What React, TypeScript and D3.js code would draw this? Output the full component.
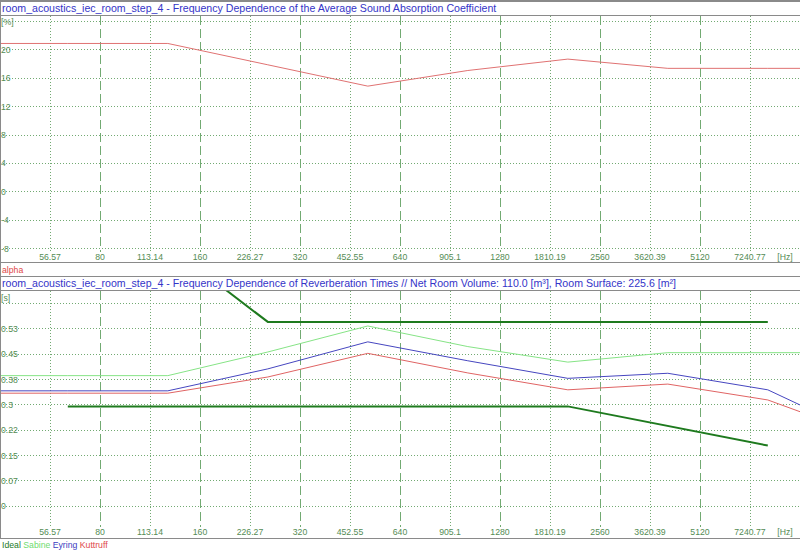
import { useRef, useEffect } from "react";
import * as d3 from "d3";

// octave bands used by the calculation (powers of two)
const bandHz = [32, 64, 128, 256, 512, 1024, 2048, 4096, 8192, 16384];
const alphaPct = [20.8, 20.8, 20.8, 17.8, 14.8, 17.0, 18.6, 17.3, 17.3, 17.3];
const sabine = [0.385, 0.385, 0.385, 0.455, 0.532, 0.471, 0.425, 0.453, 0.453, 0.453];
const eyring = [0.34, 0.34, 0.34, 0.405, 0.485, 0.429, 0.377, 0.392, 0.343, 0.204];
const kuttruff = [0.333, 0.333, 0.333, 0.381, 0.451, 0.393, 0.343, 0.36, 0.313, 0.205];

// tolerance band of the ideal reverberation time
const idealUpperHz = [128, 256, 8192];
const idealUpper = [0.77, 0.544, 0.544];
const idealLowerHz = [64, 2048, 8192];
const idealLower = [0.294, 0.294, 0.178];

const xTickLabels = ["56.57", "80", "113.14", "160", "226.27", "320", "452.55", "640", "905.1", "1280", "1810.19", "2560", "3620.39", "5120", "7240.77"];
const alphaTicks = [-8, -4, 0, 4, 8, 12, 16, 20];
const timeTicks = [0, 0.075, 0.15, 0.225, 0.3, 0.375, 0.45, 0.525];
const timeTickLabels = ["0", "0.07", "0.15", "0.22", "0.3", "0.38", "0.45", "0.53"];

const titleTop = "room_acoustics_iec_room_step_4 - Frequency Dependence of the Average Sound Absorption Coefficient";
const titleBottom = "room_acoustics_iec_room_step_4 - Frequency Dependence of Reverberation Times // Net Room Volume: 110.0 [m³], Room Surface: 225.6 [m²]";

const legendItems = [
    { name: "Ideal", color: "#1e7a1e" },
    { name: "Sabine", color: "#6fdc6f" },
    { name: "Eyring", color: "#3c3cc0" },
    { name: "Kuttruff", color: "#e04848" },
];

export default function App() {
    const ref = useRef<SVGSVGElement>(null);

    useEffect(() => {
        if (!ref.current) return;
        const width = 800;
        const height = 551;
        const font = "'Liberation Sans', Arial, sans-serif";
        const gridColor = "#72aa72";
        const labelColor = "#548c54";
        const border = "#8a8a8a";

        const svg = d3.select(ref.current);
        svg.selectAll("*").remove();
        svg.attr("width", width).attr("height", height);
        svg.append("rect").attr("width", width).attr("height", height).attr("fill", "#fff");

        const x = d3.scaleLog().base(2).domain([40, 10240]).range([0, width]);
        const octaves = new Set(["80", "160", "320", "640", "1280", "2560", "5120"]);

        const panels = [
            {
                id: "top", title: titleTop, titleY: 12, plotTop: 16, plotBottom: 252, labelY: 257,
                y: d3.scaleLinear().domain([-8, 24]).range([248.3, 20.7]),
                ticks: alphaTicks, tickLabels: alphaTicks.map(String), unit: "[%]", unitY: 22, top: 24,
            },
            {
                id: "bottom", title: titleBottom, titleY: 287, plotTop: 291, plotBottom: 527, labelY: 532,
                y: d3.scaleLinear().domain([0, 0.6]).range([505.7, 303]),
                ticks: timeTicks, tickLabels: timeTickLabels, unit: "[s]", unitY: 298, top: 0.6,
            },
        ];

        panels.forEach((p) => {
            const g = svg.append("g");
            svg.append("clipPath").attr("id", `clip-${p.id}`)
                .append("rect").attr("x", 0).attr("y", p.plotTop)
                .attr("width", width).attr("height", p.plotBottom - p.plotTop);

            // horizontal grid
            g.selectAll(".hg").data([...p.ticks, p.top]).join("line")
                .attr("x1", 0).attr("x2", width)
                .attr("y1", (d) => Math.round(p.y(d)) + 0.5).attr("y2", (d) => Math.round(p.y(d)) + 0.5)
                .attr("stroke", gridColor).attr("stroke-dasharray", "1,2");

            // vertical grid
            g.selectAll(".vg").data(xTickLabels).join("line")
                .attr("x1", (d) => Math.round(x(+d)) + 0.5).attr("x2", (d) => Math.round(x(+d)) + 0.5)
                .attr("y1", p.plotTop).attr("y2", p.plotBottom)
                .attr("stroke", gridColor)
                .attr("stroke-dasharray", (d) => (octaves.has(d) ? "9,4" : "1,2"));

            // x labels
            g.selectAll(".xl").data(xTickLabels).join("text")
                .attr("x", (d) => x(+d)).attr("y", p.labelY)
                .attr("text-anchor", "middle").attr("dominant-baseline", "central")
                .attr("font-family", font).attr("font-size", 8.7).attr("fill", labelColor)
                .text((d) => d);
            g.append("text").attr("x", 785).attr("y", p.labelY)
                .attr("text-anchor", "middle").attr("dominant-baseline", "central")
                .attr("font-family", font).attr("font-size", 8.7).attr("fill", labelColor)
                .text("[Hz]");

            // y labels
            g.selectAll(".yl").data(p.ticks).join("text")
                .attr("x", 1).attr("y", (d) => p.y(d) + 0.5)
                .attr("dominant-baseline", "central")
                .attr("font-family", font).attr("font-size", 8.7).attr("fill", labelColor)
                .text((_, i) => p.tickLabels[i]);
            g.append("text").attr("x", 1).attr("y", p.unitY)
                .attr("dominant-baseline", "central")
                .attr("font-family", font).attr("font-size", 8.7).attr("fill", labelColor)
                .text(p.unit);

            // title
            svg.append("text").attr("x", 2).attr("y", p.titleY)
                .attr("font-family", font).attr("font-size", 10.6).attr("fill", "#3434c8")
                .text(p.title);
        });

        const line = (yScale: d3.ScaleLinear<number, number>) =>
            d3.line<[number, number]>().x((d) => x(d[0])).y((d) => yScale(d[1]));
        const pairs = (hz: number[], v: number[]) => hz.map((f, i) => [f, v[i]] as [number, number]);

        // top panel: alpha
        const yTop = panels[0].y;
        svg.append("path").attr("clip-path", "url(#clip-top)")
            .attr("d", line(yTop)(pairs(bandHz, alphaPct)))
            .attr("fill", "none").attr("stroke", "#e07272").attr("stroke-width", 1);

        // bottom panel: reverberation times
        const yBot = panels[1].y;
        const gb = svg.append("g").attr("clip-path", "url(#clip-bottom)");
        [
            { v: pairs(idealUpperHz, idealUpper), c: "#1e7a1e", w: 2 },
            { v: pairs(idealLowerHz, idealLower), c: "#1e7a1e", w: 2 },
            { v: pairs(bandHz, sabine), c: "#86e486", w: 1 },
            { v: pairs(bandHz, eyring), c: "#4646c0", w: 1 },
            { v: pairs(bandHz, kuttruff), c: "#e06464", w: 1 },
        ].forEach((s) => {
            gb.append("path").attr("d", line(yBot)(s.v))
                .attr("fill", "none").attr("stroke", s.c).attr("stroke-width", s.w);
        });

        // frame lines
        const hLines = [{ y: 1, w: 2 }, { y: 15.5, w: 1 }, { y: 262.5, w: 1 }, { y: 276.5, w: 1 }, { y: 290.5, w: 1 }, { y: 538.5, w: 1 }];
        svg.selectAll(".frame").data(hLines).join("line")
            .attr("x1", 0).attr("x2", width).attr("y1", (d) => d.y).attr("y2", (d) => d.y)
            .attr("stroke", border).attr("stroke-width", (d) => d.w);
        svg.append("line").attr("x1", 0.5).attr("x2", 0.5).attr("y1", 0).attr("y2", 539)
            .attr("stroke", border);

        // legends
        svg.append("text").attr("x", 2).attr("y", 270).attr("dominant-baseline", "central")
            .attr("font-family", font).attr("font-size", 8.7).attr("fill", "#e04848").text("alpha");
        const leg = svg.append("text").attr("x", 2).attr("y", 545).attr("dominant-baseline", "central")
            .attr("font-family", font).attr("font-size", 8.7);
        legendItems.forEach((d, i) => {
            leg.append("tspan").attr("fill", d.color).text((i > 0 ? " " : "") + d.name);
        });
    }, []);

    return (
        <div style={{ position: "absolute", left: 0, top: 0 }}>
            <svg ref={ref} style={{ display: "block" }}></svg>
        </div>
    );
}
